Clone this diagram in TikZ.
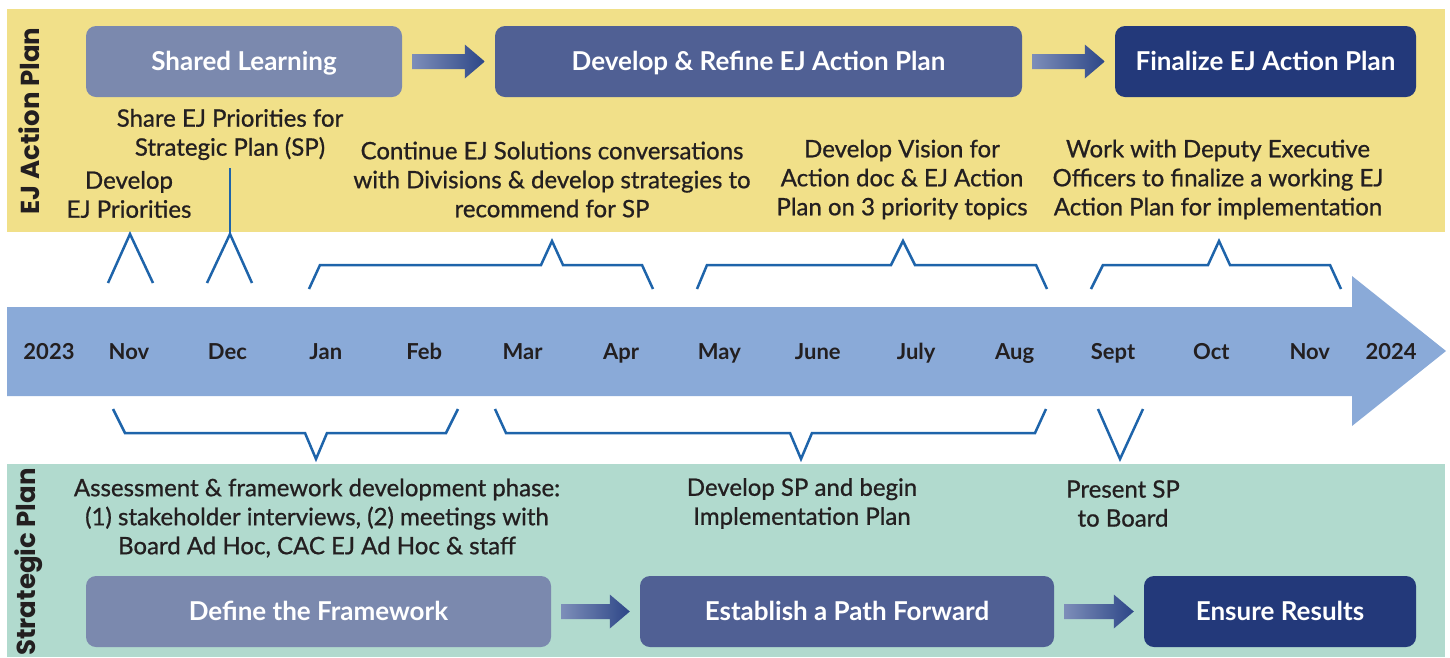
\documentclass[tikz,border=0pt]{standalone}
\usepackage{fontspec}
\setmainfont{Lato}
\newfontfamily\notefont{Lato}[FakeBold=0.8]
\newfontfamily\labelfont{Poppins}
\usetikzlibrary{calc}
\definecolor{yband}{RGB}{241,224,137}
\definecolor{gband}{RGB}{177,218,206}
\definecolor{boxA}{RGB}{123,137,174}
\definecolor{boxB}{RGB}{80,96,148}
\definecolor{boxC}{RGB}{35,57,122}
\definecolor{tl}{RGB}{138,170,216}
\definecolor{brk}{RGB}{30,100,170}
\definecolor{ink}{RGB}{35,31,32}
\definecolor{arL}{RGB}{125,142,185}
\definecolor{arR}{RGB}{45,70,135}
\tikzset{
 phase/.style={rounded corners=10pt, minimum height=71pt, text=white, font=\fontsize{26}{30}\selectfont\bfseries, inner sep=0pt, text height=18.7pt, text depth=0pt},
 note/.style={align=center, text=ink, font=\notefont\fontsize{24}{29}\selectfont, inner sep=0pt},
 month/.style={text=ink, font=\fontsize{22}{24}\selectfont\bfseries, inner sep=0pt, anchor=base},
 bracket/.style={draw=brk, line width=2.5pt, line join=miter},
 sidelabel/.style={rotate=90, text=ink, font=\labelfont\fontsize{26}{30}\selectfont\bfseries, inner sep=0pt},
}
\newcommand\blockarrow[2]{%
 \shade[left color=arL,right color=arR] ($(#1.east)+(10,-7.5)$) -- ($(#2.west)+(-30,-7.5)$) -- ($(#2.west)+(-30,-17)$) -- ($(#2.west)+(-10,0)$) -- ($(#2.west)+(-30,17)$) -- ($(#2.west)+(-30,7.5)$) -- ($(#1.east)+(10,7.5)$) -- cycle;}
\begin{document}
\begin{tikzpicture}[x=1pt,y=-1pt]
\useasboundingbox (0,0) rectangle (1450,657);
% bands
\fill[yband] (7,9) rectangle (1445,232);
\fill[gband] (7,464) rectangle (1445,657);
\node[sidelabel] (ejlab) at (29,121) {EJ Action Plan};
\node[sidelabel] (splab) at (29,562) {Strategic Plan};
% top phases
\node[phase, fill=boxA, minimum width=316pt] (sl) at (244,61.5) {Shared Learning};
\node[phase, fill=boxB, minimum width=527pt] (dr) at (758.5,61.5) {Develop \& Refine EJ Action Plan};
\node[phase, fill=boxC, minimum width=301pt] (fa) at (1265.5,61.5) {Finalize EJ Action Plan};
\blockarrow{sl}{dr}
\blockarrow{dr}{fa}
% bottom phases
\node[phase, fill=boxA, minimum width=465pt] (df) at (318.5,611.5) {Define the Framework};
\node[phase, fill=boxB, minimum width=414pt] (ep) at (847,611.5) {Establish a Path Forward};
\node[phase, fill=boxC, minimum width=272pt] (er) at (1280,611.5) {Ensure Results};
\blockarrow{df}{ep}
\blockarrow{ep}{er}
% timeline arrow
\fill[tl] (7,307) -- (1352,307) -- (1352,276) -- (1446,351) -- (1352,426) -- (1352,396) -- (7,396) -- cycle;
\node[month] (y23) at (49,359) {2023};
\foreach \m [count=\i from 0] in {Nov,Dec,Jan,Feb,Mar,Apr,May,June,July,Aug,Sept,Oct,Nov}
  \node[month] (m\i) at (129+98.4*\i,359) {\m};
\node[month] (y24) at (1391,359) {2024};
% notes top
\node[note] (dp) at (129,194.5) {Develop\\EJ Priorities};
\node[note] (share) at (230,134.5) {Share EJ Priorities for\\Strategic Plan (SP)};
\node[note] (cont) at (552,179.5) {Continue EJ Solutions conversations\\with Divisions \& develop strategies to\\recommend for SP};
\node[note] (vis) at (902,179.5) {Develop Vision for\\Action doc \& EJ Action\\Plan on 3 priority topics};
\node[note] (work) at (1218,179.5) {Work with Deputy Executive\\Officers to finalize a working EJ\\Action Plan for implementation};
% notes bottom
\node[note] (assess) at (317,518) {Assessment \& framework development phase:\\(1) stakeholder interviews, (2) meetings with\\Board Ad Hoc, CAC EJ Ad Hoc \& staff};
\node[note] (devsp) at (802,503.5) {Develop SP and begin\\Implementation Plan};
\node[note] (pres) at (1123,503.5) {Present SP\\to Board};
% top brackets
\coordinate (decapex) at (230,234);
\draw[bracket] (108,283) -- (130,234) -- (153,283);
\draw[bracket] (207,283) -- (decapex) -- (252,283);
\draw[bracket] (230,168) -- (decapex);
\draw[bracket] (309,289) -- (320,265) -- (541,265) -- (552,241) -- (563,265) -- (642,265) -- (653,289);
\draw[bracket] (697,289) -- (707,265) -- (891,265) -- (903,241) -- (915,265) -- (1036,265) -- (1047,289);
\draw[bracket] (1091,289) -- (1103,265) -- (1208,265) -- (1219,241) -- (1230,265) -- (1330,265) -- (1341,289);
% bottom brackets
\draw[bracket] (113,409) -- (125,433) -- (305,433) -- (316,459) -- (327,433) -- (446,433) -- (458,409);
\draw[bracket] (495,409) -- (506,433) -- (790,433) -- (801,459) -- (812,433) -- (1035,433) -- (1046,409);
\draw[bracket] (1098,409) -- (1120,459) -- (1143,409);
\end{tikzpicture}
\end{document}
